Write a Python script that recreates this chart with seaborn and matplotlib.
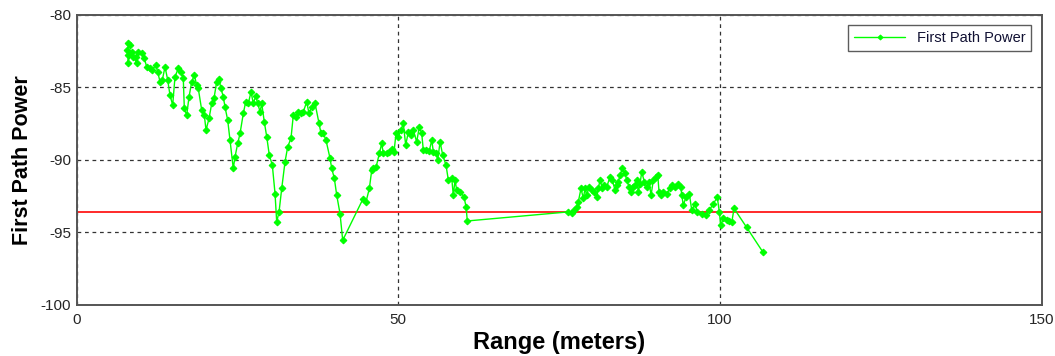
import matplotlib
matplotlib.use("Agg")
import matplotlib.pyplot as plt
import seaborn as sns
import pandas as pd

# Measured first-path power along the walk (range in meters, power in dB)
range_m = [
    7.96, 8.32, 7.80, 8.05, 7.96, 8.58, 8.83, 9.36, 9.20, 9.61,
    10.14, 10.54, 10.91, 11.43, 11.78, 12.31, 12.62, 12.98, 13.34, 13.76,
    14.18, 14.53, 14.95, 15.31, 15.82, 16.20, 16.60, 16.76, 17.13, 17.49,
    17.91, 18.31, 18.69, 18.93, 19.46, 19.87, 20.13, 20.60, 21.02, 21.37,
    21.79, 22.15, 22.46, 22.82, 23.08, 23.50, 23.86, 24.37, 24.64, 25.06,
    25.42, 25.93, 26.30, 26.71, 27.13, 27.48, 27.86, 28.17, 28.53, 28.79,
    29.19, 29.57, 29.97, 30.44, 30.86, 31.12, 31.48, 31.90, 32.41, 32.83,
    33.34, 33.70, 34.07, 34.48, 34.90, 35.26, 35.78, 36.14, 36.56, 37.08,
    37.70, 38.01, 38.37, 38.78, 39.41, 39.67, 40.08, 40.45, 40.96, 41.38,
    44.49, 45.00, 45.52, 45.89, 46.14, 46.56, 47.07, 47.44, 47.69, 48.22,
    48.62, 49.00, 49.36, 49.67, 50.02, 50.44, 50.80, 51.17, 51.58, 51.95,
    52.36, 52.88, 53.29, 53.66, 53.91, 54.33, 54.84, 55.22, 55.47, 55.88,
    56.15, 56.51, 56.93, 57.44, 57.80, 58.33, 58.57, 58.84, 59.10, 59.62,
    60.24, 60.55, 60.75,
    76.36, 76.98, 77.38, 77.76, 78.00, 78.42, 78.78, 79.05, 79.31, 79.67,
    80.09, 80.49, 80.87, 81.11, 81.38, 81.74, 82.05, 82.42, 82.93, 83.29,
    83.71, 83.97, 84.22, 84.49, 84.85, 85.27, 85.53, 85.89, 86.20, 86.56,
    86.82, 87.09, 87.33, 87.60, 87.86, 88.27, 88.64, 89.00, 89.31, 89.66,
    90.04, 90.35, 90.55, 90.86, 91.22, 91.75, 92.26, 92.62, 93.04, 93.55,
    93.93, 94.08, 94.33, 94.75, 95.26, 95.63, 96.15, 96.50, 97.19, 97.86,
    98.37, 98.99, 99.61, 99.92, 100.14, 100.55, 101.07, 101.48, 101.86, 102.21,
    104.18, 106.67,
]
first_path_power = [
    -81.97, -82.09, -82.43, -82.78, -83.31, -82.55, -82.90, -83.35, -82.90, -82.55,
    -82.66, -83.01, -83.59, -83.70, -83.81, -83.47, -83.93, -84.62, -84.50, -83.59,
    -84.50, -85.54, -86.23, -84.28, -83.70, -83.93, -84.39, -86.46, -86.92, -85.66,
    -84.62, -84.16, -84.85, -85.08, -86.57, -86.92, -87.95, -87.15, -86.11, -85.77,
    -84.62, -84.46, -85.08, -85.66, -86.35, -87.26, -88.64, -90.59, -89.79, -88.87,
    -88.18, -86.80, -86.00, -86.11, -85.31, -86.11, -85.61, -86.11, -86.69, -86.11,
    -87.38, -88.41, -89.68, -90.37, -92.32, -94.28, -93.59, -91.97, -90.14, -89.10,
    -88.52, -86.92, -87.03, -86.69, -86.80, -86.69, -86.00, -86.80, -86.35, -86.11,
    -87.49, -88.18, -88.18, -88.64, -89.90, -90.59, -91.28, -92.44, -93.70, -95.54,
    -92.73, -92.90, -91.97, -90.71, -90.59, -90.52, -89.56, -88.87, -89.56, -89.56,
    -89.45, -89.28, -89.45, -88.14, -88.41, -87.95, -87.49, -88.99, -88.07, -88.30,
    -87.95, -88.76, -87.72, -88.18, -89.33, -89.33, -89.38, -88.64, -89.45, -89.56,
    -90.02, -88.76, -89.68, -90.37, -91.40, -91.28, -92.44, -91.40, -92.09, -92.21,
    -92.55, -93.24, -94.21,
    -93.59, -93.63, -93.47, -93.24, -92.90, -91.97, -92.66, -91.97, -92.44, -91.86,
    -92.09, -92.21, -92.55, -91.97, -91.40, -91.97, -91.74, -91.86, -91.17, -91.40,
    -92.09, -91.74, -91.52, -91.06, -90.59, -90.94, -91.40, -91.86, -92.21, -91.86,
    -91.74, -91.40, -92.21, -91.63, -90.83, -91.52, -91.86, -91.52, -92.44, -91.40,
    -91.17, -91.06, -92.21, -92.44, -92.21, -92.32, -91.97, -91.74, -91.86, -91.63,
    -91.86, -92.44, -93.12, -92.55, -92.32, -93.47, -93.01, -93.59, -93.70, -93.81,
    -93.47, -93.01, -92.59, -93.59, -94.50, -94.04, -94.16, -94.21, -94.28, -93.35,
    -94.66, -96.34,
]
threshold_power = -93.6

x_ticks = [0, 50, 100, 150]
y_ticks = [-100, -95, -90, -85, -80]

df = pd.DataFrame({"Range (meters)": range_m, "First Path Power": first_path_power})

sns.set_style("white")
plt.rcParams["font.family"] = ["Liberation Sans", "DejaVu Sans"]
plt.rcParams["axes.unicode_minus"] = False

fig = plt.figure(figsize=(10.55, 3.56), dpi=100)
ax = fig.add_axes([76.5 / 1055, 1 - 305 / 356, (1041.5 - 76.5) / 1055, (305 - 14.7) / 356])

ax.axhline(threshold_power, color="#ff2a2a", lw=1.4, zorder=2)

sns.lineplot(
    data=df, x="Range (meters)", y="First Path Power", ax=ax,
    sort=False, estimator=None, color="#00ff00", lw=1.0,
    marker="D", markersize=3.4, markeredgecolor="#00ff00",
    markerfacecolor="#00ff00", label="First Path Power", zorder=3,
)

ax.set_xlim(0, 150)
ax.set_ylim(-100, -80)
ax.set_xticks(x_ticks)
ax.set_yticks(y_ticks)
ax.grid(True, color="#333333", linestyle=(0, (3, 3)), lw=0.9)
ax.tick_params(axis="both", direction="in", length=0, labelsize=11,
               labelcolor="#262626")
ax.tick_params(axis="x", pad=6)
ax.tick_params(axis="y", pad=4)
for s in ax.spines.values():
    s.set_color("#555555")
    s.set_linewidth(1.4)

ax.set_xlabel("Range (meters)", fontsize=17, fontweight="bold", color="black", labelpad=3)
ax.set_ylabel("First Path Power", fontsize=15.5, fontweight="bold", color="black", labelpad=5)

leg = ax.legend(loc="upper right", fontsize=10.5, fancybox=False, frameon=True,
                borderaxespad=0.7, handlelength=3.5, borderpad=0.4)
leg.get_frame().set_edgecolor("#333333")
leg.get_frame().set_linewidth(1.0)
for t in leg.get_texts():
    t.set_color("#111133")
for h in leg.get_lines():
    h.set_markersize(2.5)

fig.savefig("out.png", dpi=100, facecolor="white")
